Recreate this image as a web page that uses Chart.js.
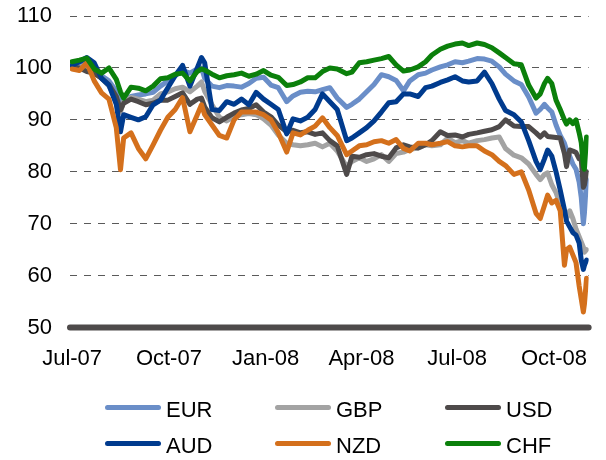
<!DOCTYPE html>
<html>
<head>
<meta charset="utf-8">
<script src="https://cdn.jsdelivr.net/npm/chart.js@4.4.1/dist/chart.umd.min.js"></script>
<style>
  html, body { margin: 0; padding: 0; background: #fff; }
  #wrap { position: relative; width: 606px; height: 460px; }
  .lg-line { position: absolute; width: 56px; height: 5px; border-radius: 3px; }
  .lg-text { position: absolute; font: 22px 'Liberation Sans', Arial, sans-serif; line-height: 22px; color: #000; }
</style>
</head>
<body>
<div id="wrap">
  <canvas id="chart" width="606" height="460"></canvas>
</div>
<script>
// days since 1 Jul 2007
const dayOffsets = [0, 7, 14, 21, 28, 35, 42, 46, 49, 56, 63, 70, 77, 84, 91, 98, 105, 112, 119, 123,
  126, 133, 140, 147, 154, 161, 168, 175, 182, 189, 196, 204, 210, 217, 224, 231, 238, 245, 252, 261,
  266, 273, 280, 287, 294, 301, 308, 315, 321, 329, 336, 342, 350, 357, 364, 371, 377, 385, 392, 399,
  406, 412, 420, 427, 434, 441, 445, 449, 452, 456, 460, 464, 468, 470, 473, 476, 479, 482, 484, 486,
  487, 489];

const tickDays = [0, 92, 184, 275, 366, 458];
const tickLabels = ['Jul-07', 'Oct-07', 'Jan-08', 'Apr-08', 'Jul-08', 'Oct-08'];

const eur = [100.0, 100.5, 101.0, 99.5, 98.5, 97.5, 95.5, 93.5, 93.8, 94.5, 94.8, 95.0, 95.3, 96.5, 97.5, 98.5, 99.5, 99.0, 99.8, 100.0,
  98.0, 96.5, 96.2, 96.6, 96.5, 96.3, 97.0, 98.0, 98.2, 96.7, 96.2, 93.5, 94.6, 95.3, 95.5, 95.4, 95.8, 96.2, 94.2, 92.4,
  93.0, 94.0, 95.4, 96.8, 98.7, 98.3, 97.6, 95.6, 97.5, 98.7, 99.0, 99.6, 100.2, 100.6, 101.2, 101.0, 101.3, 101.8, 101.7, 101.3,
  100.2, 98.8, 97.5, 96.8, 94.4, 91.3, 92.0, 93.0, 92.3, 91.5, 89.0, 87.0, 85.5, 84.2, 83.0, 81.5, 80.5, 78.0, 75.0, 70.0,
  72.0, 78.5];
const gbp = [100.0, 100.2, 100.5, 99.0, 98.0, 96.5, 94.0, 91.5, 93.5, 94.3, 94.0, 93.5, 93.8, 95.0, 95.4, 96.0, 96.3, 95.4, 96.5, 97.3,
  95.5, 92.9, 90.5, 89.8, 90.6, 91.0, 91.2, 91.0, 90.2, 89.0, 87.1, 85.5, 85.2, 85.0, 85.2, 85.5, 84.8, 85.5, 84.0, 81.0,
  82.0, 82.7, 82.0, 82.5, 83.3, 82.0, 83.5, 83.8, 84.3, 84.6, 85.2, 85.0, 85.2, 86.5, 85.6, 86.0, 85.5, 86.0, 86.2, 86.5,
  86.7, 84.5, 83.2, 82.7, 81.5, 79.5, 78.5, 79.5, 79.8, 77.5, 76.0, 73.5, 72.0, 71.0, 72.5, 71.0, 69.0, 67.5, 66.5, 65.5,
  64.5, 65.0];
const usd = [100.2, 100.0, 99.3, 99.0, 98.0, 96.8, 94.5, 91.9, 93.2, 94.0, 93.5, 92.9, 93.2, 93.8, 93.8, 94.5, 95.2, 93.0, 94.0, 94.2,
  92.5, 90.4, 89.6, 90.5, 91.3, 91.9, 92.2, 92.9, 91.5, 90.6, 89.0, 87.7, 88.0, 87.5, 87.7, 87.2, 87.5, 86.0, 85.0, 79.5,
  83.0, 82.8, 83.3, 83.5, 83.0, 82.7, 84.6, 85.2, 84.8, 84.6, 85.2, 86.0, 87.7, 87.0, 87.1, 86.7, 87.2, 87.5, 87.8, 88.1,
  88.7, 90.0, 88.8, 88.7, 88.7, 87.5, 86.7, 87.5, 86.8, 86.7, 86.6, 86.5, 83.5, 81.0, 84.2, 84.0, 83.7, 82.5, 82.3, 77.0,
  77.5, 80.0];
const aud = [100.5, 101.2, 102.0, 101.0, 98.0, 96.7, 93.0, 87.7, 91.0, 90.5, 90.0, 90.6, 92.9, 93.8, 96.2, 98.5, 100.5, 96.5, 100.0, 102.0,
  101.0, 92.0, 91.8, 93.5, 93.0, 94.0, 92.9, 95.3, 94.0, 93.0, 92.0, 87.3, 90.2, 89.8, 90.5, 92.0, 95.0, 93.5, 92.0, 86.0,
  86.5, 87.5, 88.5, 89.8, 91.5, 93.3, 93.5, 95.0, 95.0, 94.5, 96.2, 96.5, 97.2, 97.7, 98.3, 97.5, 97.3, 97.5, 99.2, 97.0,
  94.0, 91.8, 91.0, 89.6, 86.0, 82.0, 80.4, 82.5, 84.2, 83.0, 80.0, 76.5, 72.7, 70.5, 69.4, 68.3, 67.8, 66.3, 63.0, 61.2,
  62.0, 63.0];
const nzd = [99.8, 99.5, 101.0, 97.5, 95.2, 94.0, 88.5, 80.4, 86.5, 87.5, 84.5, 82.5, 85.2, 88.0, 90.5, 92.0, 94.3, 87.7, 91.0, 92.9,
  91.0, 89.0, 87.0, 86.5, 90.0, 91.5, 91.5, 91.5, 91.0, 90.0, 87.5, 83.8, 87.5, 87.1, 88.0, 88.8, 90.4, 88.5, 87.0, 83.3,
  84.0, 85.0, 85.2, 85.8, 86.0, 85.5, 86.2, 84.5, 84.0, 85.5, 85.5, 85.2, 85.5, 85.8, 85.0, 84.8, 85.0, 85.0, 84.0, 83.3,
  82.0, 81.2, 79.5, 80.0, 76.5, 72.0, 71.0, 73.5, 75.5, 74.0, 74.5, 72.5, 62.0, 65.0, 65.5, 64.0, 62.5, 58.0, 55.5, 53.0,
  54.5, 59.5];
const chf = [101.2, 101.5, 101.9, 99.8, 99.0, 100.0, 97.8, 95.4, 94.2, 96.3, 96.1, 95.6, 96.5, 97.9, 98.1, 98.8, 99.0, 97.5, 99.3, 99.8,
  99.6, 98.8, 98.1, 98.5, 98.7, 99.0, 98.4, 98.8, 99.5, 98.6, 98.2, 96.6, 96.8, 97.3, 98.1, 98.1, 99.3, 100.0, 99.8, 98.9,
  99.2, 101.0, 101.2, 101.5, 101.8, 102.2, 100.6, 99.4, 99.6, 100.2, 101.2, 102.5, 103.6, 104.2, 104.6, 104.8, 104.3, 104.8, 104.5, 103.9,
  102.9, 102.0, 100.8, 100.6, 96.7, 94.2, 95.0, 97.0, 98.0, 97.0, 93.8, 92.0, 90.0, 89.2, 90.0, 89.3, 90.0, 87.5, 85.6, 81.0,
  80.5, 86.7];

const seriesNames = ['EUR', 'GBP', 'USD', 'AUD', 'NZD', 'CHF'];
const seriesValues = [eur, gbp, usd, aud, nzd, chf];
const seriesColors = ['#6a8ec8', '#a3a3a3', '#4e4a4a', '#003b8e', '#d4701c', '#0b800b'];

Chart.defaults.font.family = "'Liberation Sans', Arial, sans-serif";

// solid axis line at the bottom of the value scale
const baseline = {
  id: 'baseline',
  beforeDatasetsDraw(chart) {
    const { ctx, chartArea, scales } = chart;
    const y = scales.y.getPixelForValue(scales.y.min);
    ctx.save();
    ctx.strokeStyle = '#4e4a4a';
    ctx.lineWidth = 6;
    ctx.lineCap = 'round';
    ctx.beginPath();
    ctx.moveTo(chartArea.left, y);
    ctx.lineTo(chartArea.right, y);
    ctx.stroke();
    ctx.restore();
  }
};

// first dataset is drawn on top, so reverse (CHF on top)
const datasets = seriesNames.map((name, i) => ({
  label: name,
  data: dayOffsets.map((d, j) => ({ x: d, y: seriesValues[i][j] })),
  borderColor: seriesColors[i],
  backgroundColor: seriesColors[i],
})).reverse();

new Chart(document.getElementById('chart').getContext('2d'), {
  type: 'line',
  data: { datasets: datasets },
  options: {
    responsive: false,
    animation: false,
    layout: { padding: { top: 16, right: 16, bottom: 70, left: 0 } },
    plugins: {
      legend: { display: false },
      tooltip: { enabled: false },
    },
    elements: {
      point: { radius: 0 },
      line: { borderWidth: 5, tension: 0, borderJoinStyle: 'round', borderCapStyle: 'round' },
    },
    scales: {
      x: {
        type: 'linear',
        min: -2,
        max: 491,
        grid: { display: false, drawTicks: false },
        border: { display: false },
        afterBuildTicks: (scale) => {
          scale.ticks = tickDays.map(v => ({ value: v }));
        },
        ticks: {
          padding: 18,
          color: '#000',
          font: { size: 22 },
          maxRotation: 0,
          autoSkip: false,
          callback: (value, index) => tickLabels[index],
        },
      },
      y: {
        min: 50,
        max: 110,
        afterFit: (scale) => {
          scale.width = 70;
          scale.paddingTop = 12;
          scale.paddingBottom = 12;
        },
        ticks: { stepSize: 10, padding: 18, color: '#000', font: { size: 22 } },
        grid: {
          drawTicks: false,
          lineWidth: 1,
          color: (c) => (c.tick && c.tick.value === 50) ? 'rgba(0,0,0,0)' : '#5a5a5a',
        },
        border: { display: false, dash: [7, 7] },
      },
    },
  },
  plugins: [baseline],
});

// legend, 3 per row
const wrap = document.getElementById('wrap');
seriesNames.forEach((name, i) => {
  const col = i % 3;
  const row = Math.floor(i / 3);
  const line = document.createElement('div');
  line.className = 'lg-line';
  line.style.left = (105 + 170 * col) + 'px';
  line.style.top = (405 + 35.5 * row) + 'px';
  line.style.background = seriesColors[i];
  const text = document.createElement('div');
  text.className = 'lg-text';
  text.style.left = (166 + 170 * col) + 'px';
  text.style.top = (399 + 35.5 * row) + 'px';
  text.textContent = name;
  wrap.appendChild(line);
  wrap.appendChild(text);
});
</script>
</body>
</html>
